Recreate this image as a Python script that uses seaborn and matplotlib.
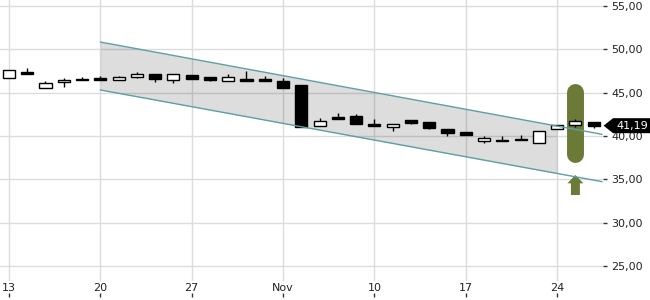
import matplotlib
matplotlib.use("Agg")
import matplotlib.pyplot as plt
from matplotlib.path import Path
import seaborn as sns
import numpy as np
import pandas as pd

# ---------------- data ----------------
day_index = list(range(33))  # trading days Oct 13 .. Nov 26
opens  = [46.72, 47.42, 45.50, 46.19, 46.61, 46.69, 46.50, 46.84, 47.15, 46.46,
          47.04, 46.77, 46.38, 46.54, 46.54, 46.31, 45.88, 41.12, 42.15, 42.27,
          41.35, 41.00, 41.84, 41.61, 40.81, 40.46, 39.42, 39.54, 39.69, 39.15,
          40.77, 41.31, 41.61]
highs  = [47.61, 47.81, 46.34, 46.65, 46.80, 46.88, 46.96, 47.35, 47.15, 47.12,
          47.04, 46.77, 47.12, 47.50, 46.96, 46.65, 45.88, 42.04, 42.69, 42.50,
          41.92, 41.42, 41.84, 41.61, 40.81, 40.46, 40.00, 40.00, 40.11, 40.54,
          41.25, 41.96, 41.61]
lows   = [46.72, 47.12, 45.50, 45.69, 46.42, 46.45, 46.50, 46.65, 46.27, 46.11,
          46.61, 46.34, 46.38, 46.38, 46.38, 45.57, 41.07, 41.12, 41.99, 41.42,
          41.12, 40.61, 41.35, 40.81, 40.03, 40.17, 39.23, 39.42, 39.57, 39.15,
          40.77, 41.07, 40.96]
closes = [47.61, 47.12, 46.08, 46.46, 46.42, 46.50, 46.80, 47.12, 46.58, 47.12,
          46.61, 46.50, 46.77, 46.38, 46.38, 45.57, 41.07, 41.69, 41.99, 41.42,
          41.12, 41.42, 41.55, 40.96, 40.38, 40.17, 39.73, 39.42, 39.57, 40.54,
          41.25, 41.73, 41.19]

tick_positions = [0, 5, 10, 15, 20, 25, 30]
tick_labels = ["13", "20", "27", "Nov", "10", "17", "24"]
y_ticks = [25, 30, 35, 40, 45, 50, 55]
y_tick_labels = ["25,00", "30,00", "35,00", "40,00", "45,00", "50,00", "55,00"]

# trend channel
channel_x = [5, 32.46]
channel_upper = [50.84, 40.19]
channel_lower = [45.31, 34.73]
fill_x = [5, 30]
fill_upper = [50.84, 41.17]
fill_lower = [45.31, 35.66]

# signal marker (day 31)
marker_day = 31
marker_range = [37.98, 45.13]
arrow_from = 33.19
arrow_to = 35.50

last_price = 41.19
last_label = "41,19"

# ---------------- plot ----------------
sns.set_theme(style="white")
plt.rcParams['font.family'] = ['DejaVu Sans']

fig = plt.figure(figsize=(6.5, 3.0), dpi=100)
ax = fig.add_axes([0, 19 / 300, 603 / 650, 281 / 300])

df = pd.DataFrame({"day": day_index, "open": opens, "high": highs,
                   "low": lows, "close": closes})
df["up"] = df["close"] >= df["open"]

green = "#6b7b37"
teal = "#5e9ea5"

# channel fill
ax.fill_between(fill_x, fill_lower, fill_upper, color="black", alpha=0.135,
                linewidth=0, zorder=1)

# green signal marker
ax.plot([marker_day, marker_day], marker_range, color=green, lw=12.2,
        solid_capstyle="round", zorder=2)
ax.arrow(marker_day, arrow_from, 0, arrow_to - arrow_from, width=0.49,
         head_width=0.88, head_length=0.96, length_includes_head=True,
         color=green, linewidth=0, zorder=2)

# wicks
ax.vlines(df["day"], df["low"], df["high"], color="black", lw=1.0, zorder=3)
# bodies
body_bottom = np.minimum(df["open"], df["close"])
body_h = np.abs(df["close"] - df["open"])
colors = ["white" if u else "black" for u in df["up"]]
ax.bar(df["day"], body_h, bottom=body_bottom, width=0.66, color=colors,
       edgecolor="black", linewidth=1.0, zorder=4)

# channel lines
cdf = pd.DataFrame({"x": channel_x * 2,
                    "y": channel_upper + channel_lower,
                    "line": ["u", "u", "l", "l"]})
sns.lineplot(data=cdf, x="x", y="y", units="line", estimator=None,
             color=teal, lw=1.0, ax=ax, zorder=5)

ax.set_xlim(-0.49, 32.51)
ax.set_ylim(23.27, 55.69)
ax.set_xlabel("")
ax.set_ylabel("")

ax.set_xticks(tick_positions)
ax.set_xticklabels(tick_labels)
ax.set_yticks(y_ticks)
ax.set_yticklabels(y_tick_labels)
ax.yaxis.tick_right()
ax.tick_params(axis="y", which="both", length=3, width=1, color="#333333",
               labelsize=8, labelcolor="#222222", pad=3, direction="out", right=True)
ax.tick_params(axis="x", length=0, labelsize=8, labelcolor="#222222", pad=1.5)
ax.grid(True, color="#dcdcdc", lw=1.0)
ax.set_axisbelow(True)
for s in ax.spines.values():
    s.set_visible(False)

# small tick marks below labels
sec = ax.secondary_xaxis(-16 / 281)
sec.set_xticks(tick_positions)
sec.set_xticklabels([""] * len(tick_positions))
sec.tick_params(axis="x", direction="in", length=3, width=1, color="#333333")
for s in sec.spines.values():
    s.set_visible(False)


# price tag (pentagon pointing left)
def tag_box(x0, y0, width, height, mutation_size):
    pv = 2.5
    pl = 3.5
    pr = 6.0
    tip = 9.5
    xa = x0 - pl
    xb = x0 + width + pr
    ya = y0 - pv
    yb = y0 + height + pv
    ym = (ya + yb) / 2
    return Path([(xa, ya), (xb, ya), (xb, yb), (xa, yb), (xa - tip, ym), (xa, ya)],
                [Path.MOVETO, Path.LINETO, Path.LINETO, Path.LINETO,
                 Path.LINETO, Path.CLOSEPOLY])


trans = matplotlib.transforms.blended_transform_factory(ax.transAxes, ax.transData)
ax.text(1.0225, last_price, last_label, transform=trans, color="white",
        fontsize=8, ha="left", va="center", clip_on=False, zorder=10,
        bbox=dict(boxstyle=tag_box, fc="black", ec="black", lw=0))

fig.savefig("out.png", dpi=100)
